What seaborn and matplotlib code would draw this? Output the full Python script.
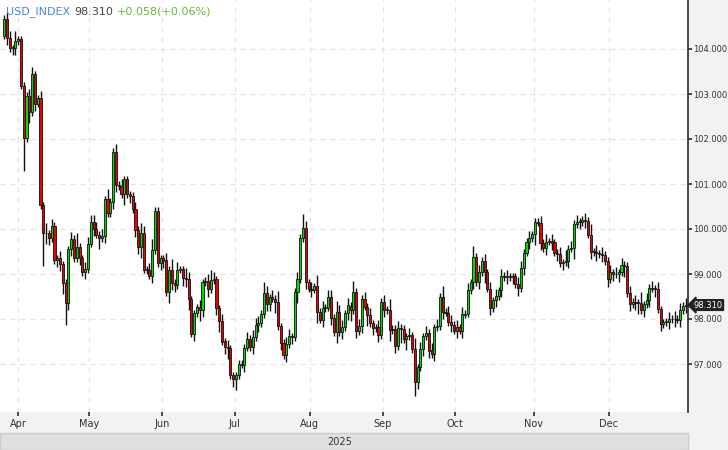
import numpy as np
import pandas as pd
import matplotlib
matplotlib.use("Agg")
import matplotlib.pyplot as plt
import seaborn as sns

seg1 = [104.67,104.24,104.02,104.02,104.17,104.22,103.18,102.02,102.96,102.6,
        103.44,102.78,102.9,100.53,99.9,99.9,99.8,100.07,99.31,99.35,99.22,98.8,
        98.35,99.55,99.78,99.35,99.6,99.35,99.04,99.11,99.67,100.16,
        100.0,99.87,99.8,99.85,100.66,100.35,100.6,101.72,100.98,100.95,
        100.77,101.1,100.77,100.74,100.44,99.98,99.6,99.9,99.1,99.08,
        98.96,99.53,100.4,99.24,99.35,99.3,98.6,99.1,98.8,98.75,
        99.1,99.1,98.9,98.88,98.44,97.67,98.13,98.26,98.2,98.82,
        98.85,98.66,98.86,98.88,98.24,97.95,97.5,97.38,97.35,96.75,
        96.66,96.75,97.0,96.98]
seg2 = [97.36,97.56,97.38,97.6,97.87,97.9,98.11,98.58,98.33,98.48,
        98.45,98.38,97.84,97.47,97.2,97.44,97.62,97.6,98.6,98.88,
        99.8,100.02,98.82,98.67,98.65,98.73,98.16,97.98,98.24,98.25,
        98.48,98.03,97.71,98.16,97.71,97.82,98.13,98.3,98.2,98.6,
        97.73,97.84,98.45,98.27,98.09,97.9,97.8,97.82,97.64,98.38,
        98.2,98.2,97.75,97.78,97.4,97.8,97.78,97.55,97.62,97.64,
        97.33,96.6,96.93,97.33,97.62,97.69,97.3,97.22,97.82,97.84,
        98.49,98.16,98.14,97.93,97.87,97.74,97.82,97.74,98.1,98.12,98.64]
seg3 = [98.82,99.38,98.82,99.04,99.29,99.04,98.67,98.24,98.42,98.51,
        98.64,98.96,98.93,98.94,98.93,98.95,98.78,98.68,99.13,99.47,
        99.71,99.8,99.88,100.16,100.14,99.69,99.58,99.72,99.73,99.7,
        99.47,99.44,99.24,99.26,99.29,99.56,99.58,100.11,100.16,100.15,
        100.2,100.18,99.87,99.5,99.49,99.46,99.44,99.43,99.29,98.88,
        99.04,99.0,98.99,99.04,99.2,99.18,98.58,98.33,98.38,98.36,
        98.36,98.2,98.33,98.42,98.69,98.67,98.66,98.22,97.89,97.93,
        97.94,98.0,97.99,98.01,97.98,98.2,98.29,98.31]
first_open = 104.3

# wick lengths, one digit per bar (units of 0.08)
wick_up = ("1221311112 2112131211 2111214112 2222121311 2121111213 2123111121 3121132111 2112321121 211111"
           "1212221321 2131122112 1421213121 2213221213 1212121121 2131121112 1312121212 1312212121 2"
           "1312121212 1212111221 1211121212 1121312121 1213121211 2121211212 1312121211 12121212")
wick_dn = ("1212211913 1211932112 2362211212 1121312112 2113121223 1112112213 2211223121 3212112312 312311"
           "2112121122 1312121213 1121213121 1213121231 2121312121 2131214131 1421212121 1211212121 1"
           "1212131212 1212121212 1213121212 1212121312 1212121212 1212131212 3121212121 12121212")

months = ["Apr", "May", "Jun", "Jul", "Aug", "Sep", "Oct", "Nov", "Dec"]
month_pos = [5.0, 30.5, 56.5, 82.5, 109.4, 135.6, 161.5, 189.5, 216.4]
yticks = [97, 98, 99, 100, 101, 102, 103, 104]

close = np.array(seg1 + seg2 + seg3)
n = len(close)
opn = np.concatenate([[first_open], close[:-1]])
wu = np.array([int(c) for c in wick_up.replace(" ", "")][:n]) * 0.08
wd = np.array([int(c) for c in wick_dn.replace(" ", "")][:n]) * 0.08
high = np.maximum(opn, close) + wu
low = np.minimum(opn, close) - wd
df = pd.DataFrame({"i": np.arange(n), "o": opn, "c": close, "h": high, "l": low})
df["up"] = df.c >= df.o

sns.set_theme(style="white")
plt.rcParams['font.family'] = ['DejaVu Sans']
fig = plt.figure(figsize=(7.28, 4.5), dpi=100)
W, H = 728, 450
ax = fig.add_axes([0, (H - 412) / H, 688 / W, 412 / H])
ax.set_facecolor("white")

ax.vlines(df.i, df.l, df.h, color="#111111", linewidth=1.0, zorder=2)
body_h = (df.c - df.o).abs().clip(lower=0.02)
colors = np.where(df.up, "#00dd00", "#ee0000")
ax.bar(df.i, body_h, bottom=np.minimum(df.o, df.c), width=0.75, color=colors,
       edgecolor="#111111", linewidth=0.6, zorder=3)

ax.set_xlim(-1.5, n - 0.2)
ax.set_ylim(104 - 363 / 45, 104 + 49 / 45)
ax.set_yticks(yticks)
ax.set_xticks(month_pos)
ax.grid(True, color="#e4e4e4", linestyle=(0, (4, 4)), linewidth=0.9)
ax.set_axisbelow(True)
ax.yaxis.tick_right()
ax.set_yticklabels([f"{v:.3f}" for v in yticks], fontsize=6.0, color="#333333")
ax.tick_params(axis="y", length=3, color="#333333", pad=0.8, right=True)
ax.set_xticklabels(months, fontsize=7, color="#333333")
ax.tick_params(axis="x", length=3, color="#333333", pad=2, bottom=True)
for s in ["top", "left", "bottom"]:
    ax.spines[s].set_visible(False)
ax.spines["right"].set_color("#333333")

# background strips
fig.patches.append(plt.Rectangle((688 / W, 0), 40 / W, 1, transform=fig.transFigure,
                                 color="#f2f2f2", zorder=-1))
fig.patches.append(plt.Rectangle((0, 0), 1, 38 / H, transform=fig.transFigure,
                                 color="#f2f2f2", zorder=-1))
fig.patches.append(plt.Rectangle((0, 0), 688 / W, 17 / H, transform=fig.transFigure,
                                 facecolor="#e0e0e0", edgecolor="#cccccc", zorder=-1))
fig.text(340 / W, 8 / H, "2025", fontsize=7, color="#333333", ha="center", va="center")

# last price badge
ax.annotate(f"{close[-1]:.3f}", xy=(1.0, close[-1]), xycoords=("axes fraction", "data"),
            xytext=(4, 0), textcoords="offset points", fontsize=6.0, color="white",
            va="center", ha="left", annotation_clip=False,
            bbox=dict(boxstyle="larrow,pad=0.1", fc="#222222", ec="#222222"))

# header
t1 = fig.text(6 / W, 1 - 12 / H, "USD_INDEX", fontsize=8, color="#4a86e8", va="center")
fig.canvas.draw()
r = fig.canvas.get_renderer()
bb = t1.get_window_extent(r)
t2 = fig.text(bb.x1 / W + 4 / W, 1 - 12 / H, f"{close[-1]:.3f}", fontsize=8, color="#444444", va="center")
bb2 = t2.get_window_extent(r)
fig.text(bb2.x1 / W + 4 / W, 1 - 12 / H, "+0.058(+0.06%)", fontsize=8, color="#66bb33", va="center")

fig.savefig("out.png", dpi=100)
